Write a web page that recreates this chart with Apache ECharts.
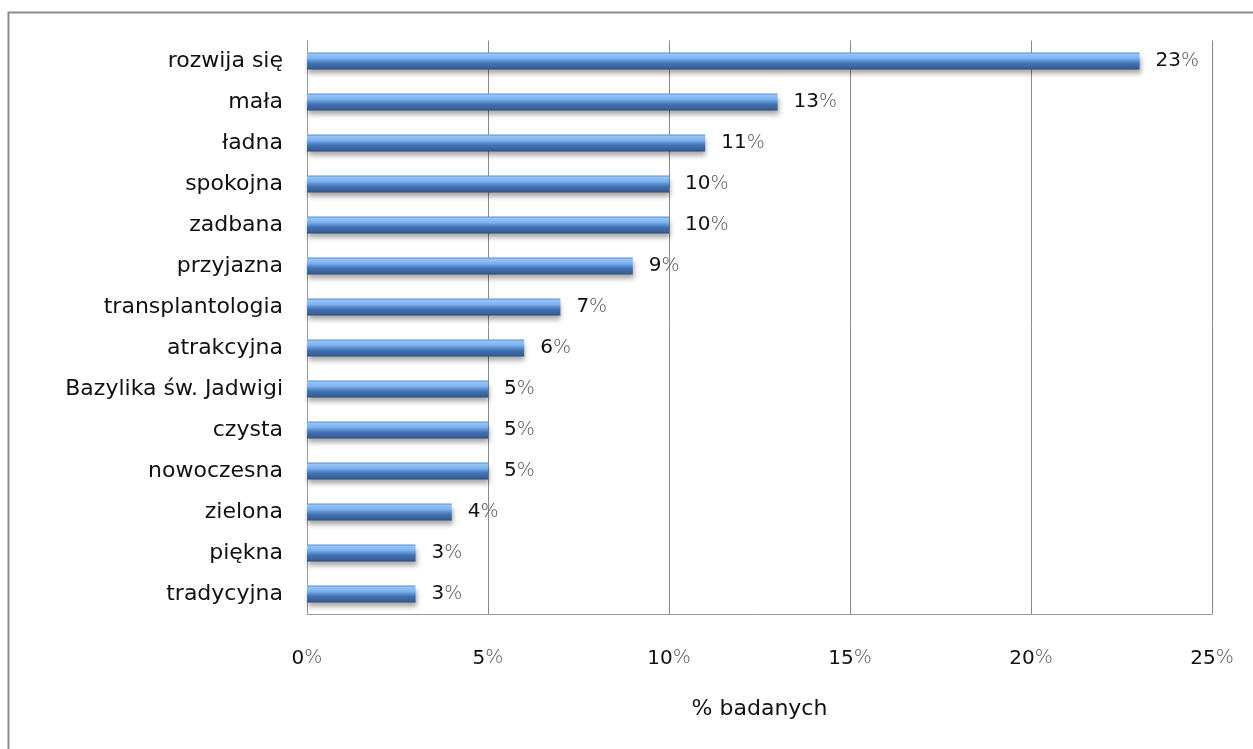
<!DOCTYPE html>
<html>
<head>
<meta charset="utf-8">
<script src="https://cdn.jsdelivr.net/npm/echarts@6/dist/echarts.min.js"></script>
<style>
  html, body { margin: 0; padding: 0; background: #fff; }
  #chart { width: 1253px; height: 749px; }
</style>
</head>
<body>
<div id="chart"></div>
<script>
// Features associated with the city, top to bottom
const categories = [
  'rozwija się', 'mała', 'ładna', 'spokojna', 'zadbana', 'przyjazna',
  'transplantologia', 'atrakcyjna', 'Bazylika św. Jadwigi', 'czysta',
  'nowoczesna', 'zielona', 'piękna', 'tradycyjna'
];
// Share of respondents, percent
const values = [23, 13, 11, 10, 10, 9, 7, 6, 5, 5, 5, 4, 3, 3];
// Value-axis ticks
const tickValues = [0, 5, 10, 15, 20, 25];

const FONT = 'DejaVu Sans';

const chart = echarts.init(document.getElementById('chart'), null, { renderer: 'canvas' });

function pctRich(size) {
  return {
    v: { fontFamily: FONT, fontSize: size, color: '#111' },
    p: { fontFamily: FONT, fontSize: size - 1, color: '#555', fontWeight: 'lighter' }
  };
}

chart.setOption({
  backgroundColor: '#fff',
  animation: false,
  graphic: [{
    type: 'rect',
    shape: { x: 8.5, y: 12.5, width: 1260, height: 760 },
    style: { fill: 'none', stroke: '#8c8c8c', lineWidth: 2 },
    silent: true
  }],
  grid: { left: 307, right: 41, top: 40.5, bottom: 134.5, containLabel: false },
  xAxis: {
    type: 'value',
    min: tickValues[0],
    max: tickValues[tickValues.length - 1],
    interval: 5,
    name: '% badanych',
    nameLocation: 'middle',
    nameGap: 84,
    nameTextStyle: { fontFamily: FONT, fontSize: 22, color: '#111' },
    axisLine: { show: true, lineStyle: { color: '#9a9a9a', width: 1 } },
    axisTick: { show: false },
    splitLine: { show: true, lineStyle: { color: '#8a8a8a', width: 1 } },
    axisLabel: {
      margin: 34,
      formatter: v => '{v|' + v + '}{p|%}',
      rich: pctRich(20)
    }
  },
  yAxis: {
    type: 'category',
    data: categories,
    inverse: true,
    axisLine: { show: true, lineStyle: { color: '#9a9a9a', width: 1 } },
    axisTick: { show: false },
    splitLine: { show: false },
    axisLabel: {
      margin: 24,
      fontFamily: FONT,
      fontSize: 22,
      color: '#111'
    }
  },
  series: [{
    type: 'bar',
    data: values,
    barWidth: 17,
    itemStyle: {
      color: new echarts.graphic.LinearGradient(0, 0, 0, 1, [
        { offset: 0, color: '#5e8fd2' },
        { offset: 0.12, color: '#95c4f6' },
        { offset: 0.35, color: '#7cb1ee' },
        { offset: 0.5, color: '#5a8dd2' },
        { offset: 0.65, color: '#4271b0' },
        { offset: 0.9, color: '#36609a' },
        { offset: 1, color: '#2a4a78' }
      ]),
      shadowColor: 'rgba(0,0,0,0.35)',
      shadowBlur: 5,
      shadowOffsetX: 1,
      shadowOffsetY: 4
    },
    label: {
      show: true,
      position: 'right',
      distance: 16,
      formatter: p => '{v|' + p.value + '}{p|%}',
      rich: pctRich(20)
    }
  }]
});
</script>
</body>
</html>
